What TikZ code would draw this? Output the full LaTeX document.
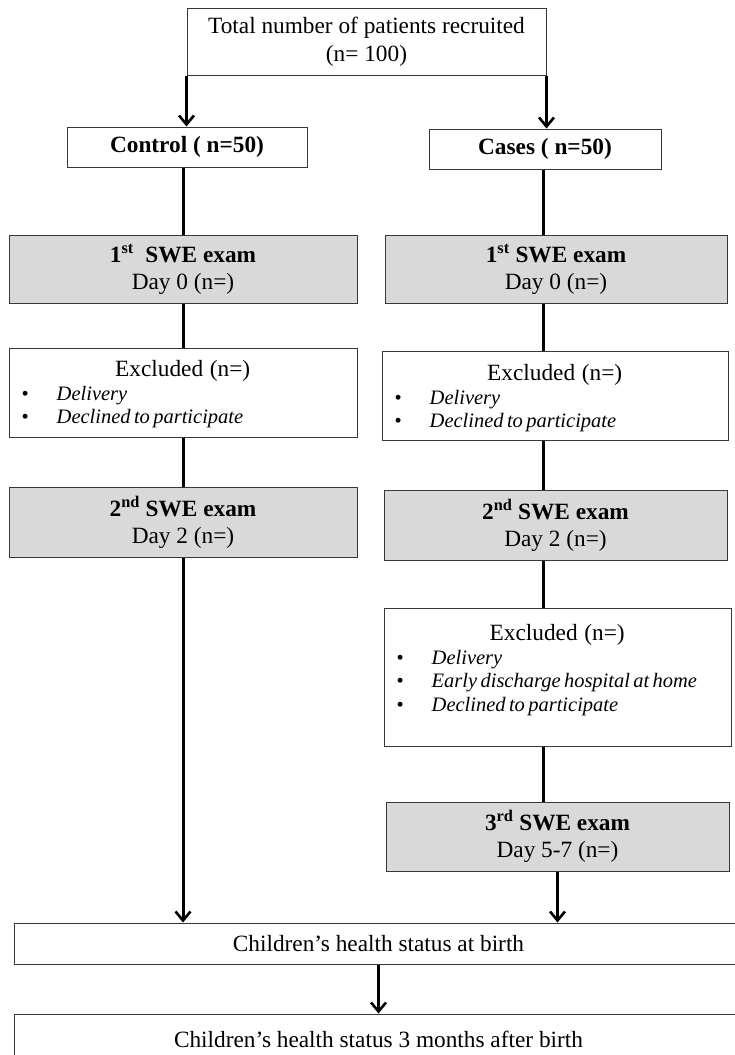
\documentclass[tikz,border=0pt]{standalone}
\usepackage{fontspec}
\setmainfont{Liberation Serif}
\usetikzlibrary{arrows.meta,calc}
\definecolor{swegray}{RGB}{217,217,217}
\definecolor{edgegray}{RGB}{55,55,55}
\newcommand{\exhead}{\centering\fontsize{23.3}{24.5}\selectfont Excluded\ \ (n=)\par\raggedright\fontsize{20.5}{23.5}\selectfont}
\newcommand{\exitem}[1]{\hspace*{13pt}\makebox[35pt][l]{\textbullet}\textit{#1}\par}
\tikzset{
  x=1pt, y=-1pt,
  box/.style={draw=edgegray, line width=1pt, inner sep=0pt, fill=white, align=center,
    font=\fontsize{23.3}{27}\selectfont},
  swebox/.style={box, fill=swegray},
  conn/.style={line width=3pt, black},
  arr/.style={conn, -{Straight Barb[length=9pt,width=15pt,line width=2.6pt]}},
  txt/.style={inner sep=0pt, anchor=north west, align=left},
}
\begin{document}
\begin{tikzpicture}
\useasboundingbox (0,0) rectangle (735,1055);
% boxes
\node[box, minimum width=359pt, minimum height=67pt, font=\fontsize{23.3}{28}\selectfont] (top) at (366.5,41.5) {Total number of patients recruited\\(n= 100)};
\node[box, minimum width=240pt, minimum height=40pt] (ctrl) at (187,147) {\textbf{Control ( n=50)}};
\node[box, minimum width=232pt, minimum height=40pt] (cases) at (545,149) {\textbf{Cases ( n=50)}};
\node[swebox, minimum width=348pt, minimum height=68pt] (swe1L) at (183,269) {\textbf{1\textsuperscript{st}\ \ SWE exam}\\Day 0 (n=)};
\node[swebox, minimum width=342pt, minimum height=68pt] (swe1R) at (556,269) {\textbf{1\textsuperscript{st} SWE exam}\\Day 0 (n=)};
\node[box, minimum width=348pt, minimum height=89pt] (exL) at (183,392.5) {};
\node[box, minimum width=346pt, minimum height=89pt] (exR) at (555,395.5) {};
\node[swebox, minimum width=348pt, minimum height=70pt] (swe2L) at (183,522) {\textbf{2\textsuperscript{nd} SWE exam}\\Day 2 (n=)};
\node[swebox, minimum width=343pt, minimum height=70pt] (swe2R) at (555.5,525) {\textbf{2\textsuperscript{nd} SWE exam}\\Day 2 (n=)};
\node[box, minimum width=347pt, minimum height=138pt] (ex2R) at (557.5,677) {};
\node[swebox, minimum width=343pt, minimum height=69pt] (swe3R) at (557.5,836.5) {\textbf{3\textsuperscript{rd} SWE exam}\\Day 5-7 (n=)};
\node[box, minimum width=729pt, minimum height=41pt] (birth) at (378.5,943.5) {Children’s health status at birth};
\node[box, minimum width=729pt, minimum height=50pt] (months) at (378.5,1039) {Children’s health status 3 months after birth};
% texts of the excluded boxes
\node[txt, text width=348pt] (exLt) at ($(exL.north west)+(0,13)$) {\exhead\exitem{Delivery}\exitem{Declined to participate}};
\node[txt, text width=346pt] (exRt) at ($(exR.north west)+(0,14)$) {\exhead\exitem{Delivery}\exitem{Declined to participate}};
\node[txt, text width=347pt] (ex2Rt) at ($(ex2R.north west)+(0,17)$) {\exhead\exitem{Delivery}\exitem{Early discharge hospital at home}\exitem{Declined to participate}};
% column lines
\coordinate (colL) at (183,0);
\coordinate (colR) at (543,0);
\draw[arr] (top.south west) -- (top.south west |- ctrl.north);
\draw[arr] (top.south east) -- (top.south east |- cases.north);
\draw[conn] (ctrl.south -| colL) -- (swe1L.north -| colL);
\draw[conn] (swe1L.south -| colL) -- (exL.north -| colL);
\draw[conn] (exL.south -| colL) -- (swe2L.north -| colL);
\draw[arr] (swe2L.south -| colL) -- (birth.north -| colL);
\draw[conn] (cases.south -| colR) -- (swe1R.north -| colR);
\draw[conn] (swe1R.south -| colR) -- (exR.north -| colR);
\draw[conn] (exR.south -| colR) -- (swe2R.north -| colR);
\draw[conn] (swe2R.south -| colR) -- (ex2R.north -| colR);
\draw[conn] (ex2R.south -| colR) -- (swe3R.north -| colR);
\draw[arr] (swe3R.south) -- (birth.north -| swe3R.south);
\draw[arr] (birth.south) -- (months.north);
\end{tikzpicture}
\end{document}
